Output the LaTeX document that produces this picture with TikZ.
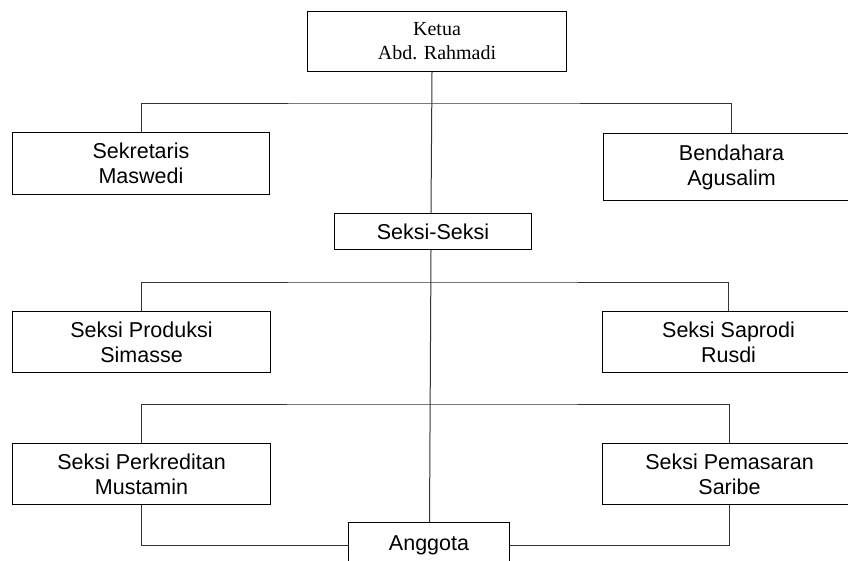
\documentclass[tikz,border=0pt]{standalone}
\usepackage{fontspec}
\setmainfont{Liberation Serif}
\setsansfont{Liberation Sans}
\usepackage{tikz}
\usetikzlibrary{positioning}
\tikzstyle{cbox}=[rectangle, draw, line width=1pt, align=center, inner sep=0pt, anchor=north west, font=\sffamily\fontsize{21.5}{25}\selectfont]
\tikzstyle{cline}=[line width=1pt, black!80]

\begin{document}
\begin{tikzpicture}[x=1pt,y=-1pt]
	\useasboundingbox (0,0) rectangle (848,560);
	\clip (0,0) rectangle (848,560);

	%%% first row, ketua
	\node[cbox,minimum width=259pt,minimum height=60pt,font=\rmfamily\fontsize{20}{24}\selectfont] (ketua) at (307,11) {Ketua\\Abd. Rahmadi};

	%%% second row
	\node[cbox,minimum width=257pt,minimum height=62pt] (sekretaris) at (12,132) {Sekretaris\\Maswedi};
	\node[cbox,minimum width=256pt,minimum height=67pt] (bendahara) at (603,133) {Bendahara\\Agusalim};

	\node[cbox,minimum width=197pt,minimum height=36pt] (seksi) at (334,213) {Seksi-Seksi};

	%%% third row
	\node[cbox,minimum width=258pt,minimum height=61pt] (produksi) at (12,311) {Seksi Produksi\\Simasse};
	\node[cbox,minimum width=252pt,minimum height=61pt] (saprodi) at (602,311) {Seksi Saprodi\\Rusdi};

	%%% fourth row
	\node[cbox,minimum width=258pt,minimum height=61pt] (perkreditan) at (12,443) {Seksi Perkreditan\\Mustamin};
	\node[cbox,minimum width=254pt,minimum height=61pt] (pemasaran) at (602,443) {Seksi Pemasaran\\Saribe};

	\node[cbox,minimum width=161pt,minimum height=46pt] (anggota) at (348,522) {Anggota};

	% join lines
	\coordinate (bar1) at (432,103);
	\coordinate (bar2) at (431,282);
	\coordinate (bar3) at (429.5,404);

	\draw[cline] (ketua.south -| bar1) -- (seksi.north -| bar2);
	\draw[cline] (seksi.south -| bar2) -- (anggota.north -| bar3);

	\draw[cline] (sekretaris.north) |- (bar1) -| (bendahara.north);
	\draw[cline] (produksi.north) |- (bar2) -| (saprodi.north);
	\draw[cline] (perkreditan.north) |- (bar3) -| (pemasaran.north);

	\draw[cline] (perkreditan.south) |- (anggota.west);
	\draw[cline] (pemasaran.south) |- (anggota.east);
\end{tikzpicture}
\end{document}
